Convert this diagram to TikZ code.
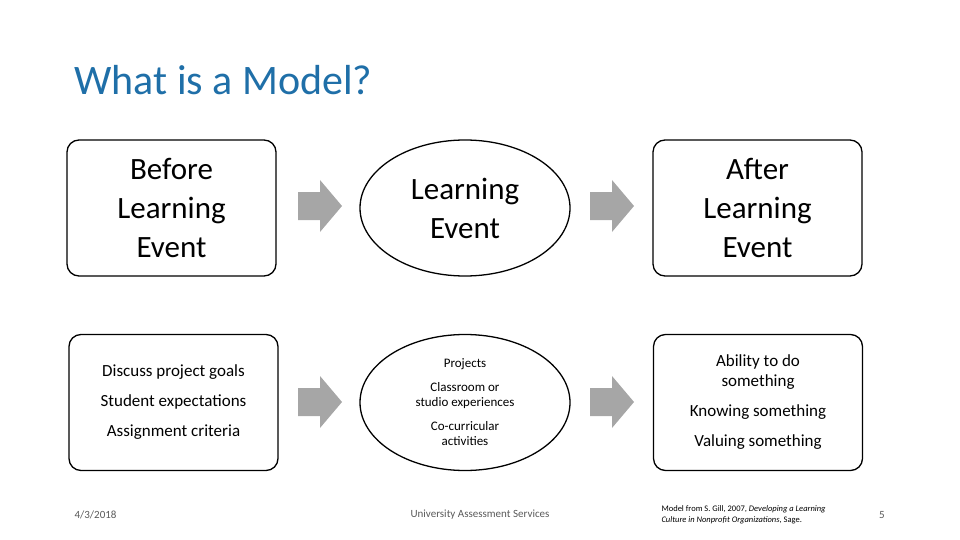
\documentclass[tikz,border=0pt]{standalone}
\usepackage{fontspec}
\setmainfont{Carlito}
\usetikzlibrary{shapes.geometric}
\definecolor{ttl}{HTML}{1F6FA8}
\definecolor{arr}{HTML}{A6A6A6}
\begin{document}
\begin{tikzpicture}[x=1pt,y=-1pt,
  box/.style={draw,line width=1.3pt,rounded corners=12pt,minimum width=209pt,minimum height=136pt,align=center,inner sep=0},
  oval/.style={draw,line width=1.3pt,ellipse,minimum width=210pt,minimum height=136pt,align=center,inner sep=0},
  blk/.style={fill=arr,draw=none},
  big/.style={font=\fontsize{31}{39}\selectfont},
  foot/.style={font=\fontsize{11}{13}\selectfont,text=black!65}]
\useasboundingbox (0,0) rectangle (960,540);
\node[anchor=west,text=ttl,font=\fontsize{42}{44}\selectfont] (t) at (71,80) {What is a Model?};
\node[box,big] (b1) at (171.5,208) {Before\\Learning\\Event};
\node[oval,big] (b2) at (465,208) {Learning\\Event};
\node[box,big] (b3) at (757.5,208) {After\\Learning\\Event};
\node[box,font=\fontsize{17}{30}\selectfont] (c1) at (173.5,402.5) {Discuss project goals\\Student expectations\\Assignment criteria};
\node[oval,font=\fontsize{13}{15}\selectfont] (c2) at (465,402.5) {Projects\\[9pt]Classroom or\\studio experiences\\[9pt]Co-curricular\\activities};
\node[box,font=\fontsize{17}{20}\selectfont] (c3) at (758,402.5) {Ability to do\\something\\[10pt]Knowing something\\[10pt]Valuing something};
\foreach \n/\x/\y in {a1/320/206,a2/612/206,a3/320/402,a4/612/402}{
  \coordinate (\n) at (\x,\y);
  \fill[blk] ([shift={(-22,-14)}]\n) -- ([shift={(0,-14)}]\n) -- ([shift={(0,-26)}]\n) -- ([shift={(22,0)}]\n) -- ([shift={(0,26)}]\n) -- ([shift={(0,14)}]\n) -- ([shift={(-22,14)}]\n) -- cycle;
}
\node[foot,anchor=west] (f1) at (71,515) {4/3/2018};
\node[foot] (f2) at (480,515) {University Assessment Services};
\node[anchor=west,font=\fontsize{8.5}{11}\selectfont,align=left] (f3) at (658,515) {Model from S. Gill, 2007, \textit{Developing a Learning}\\\textit{Culture in Nonprofit Organizations}, Sage.};
\node[foot] (f4) at (882,515) {5};
\end{tikzpicture}
\end{document}
